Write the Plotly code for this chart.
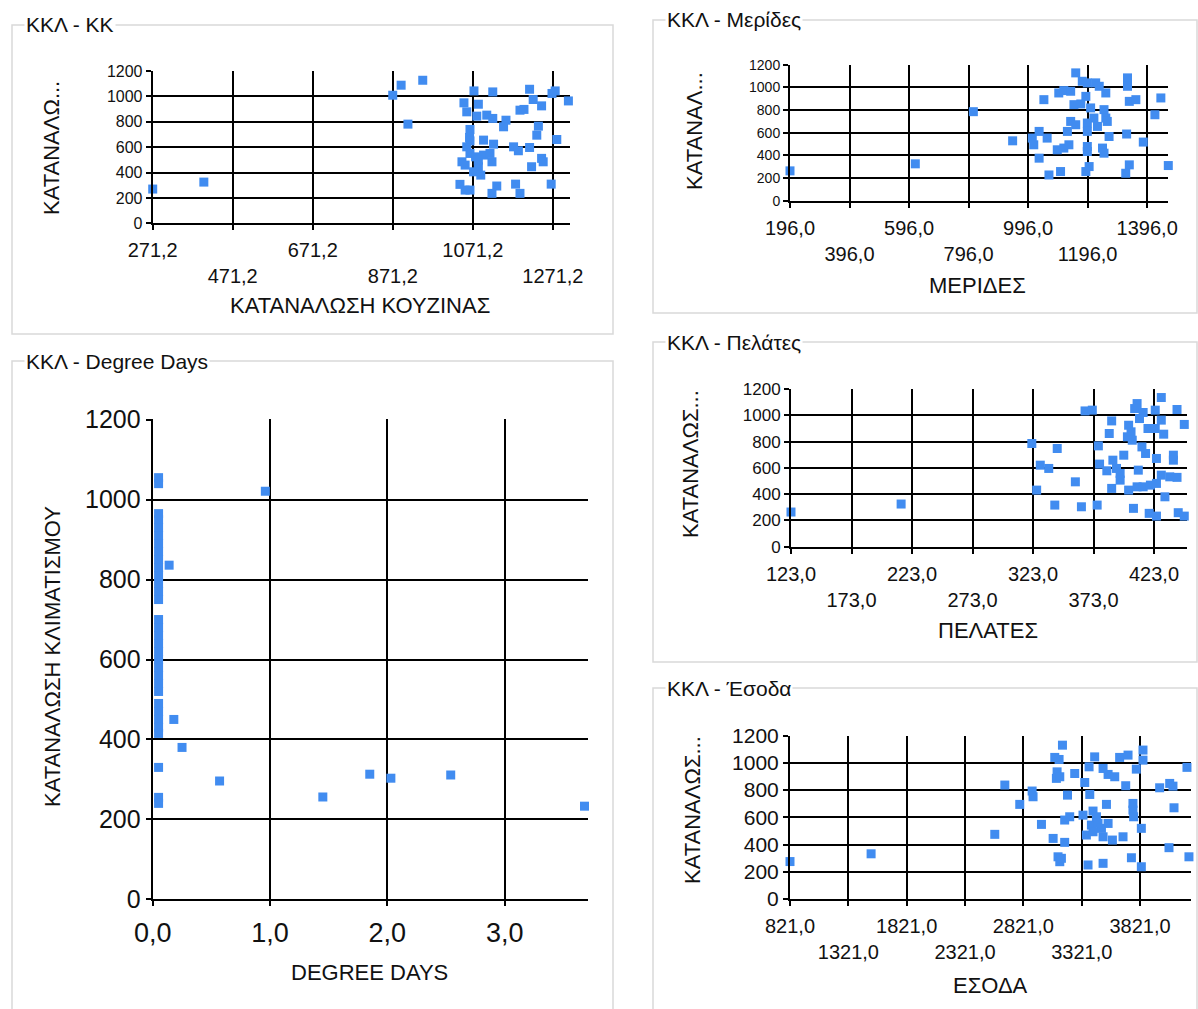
import plotly.graph_objects as go

# ---------------- data ----------------
# y values: air-conditioning consumption (ΚΚΛ); x values: the five drivers

kk_x = [271.2, 399, 871, 892, 946, 909, 1074, 1121, 1213, 1277, 1269, 1310, 1049, 1056, 1085, 1081,
        1106, 1121, 1189, 1199, 1222, 1243, 1154, 1148, 1235, 1231, 1064, 1063, 1281, 1098, 1123, 1056,
        1173, 1185, 1213, 1064, 1044, 1052, 1078, 1098, 1114, 1119, 1085, 1073, 1091, 1243, 1247, 1218,
        1039, 1052, 1064, 1131, 1119, 1178, 1189, 1267, 1064, 1085]
kk_y = [270, 325, 1010, 1089, 1128, 782, 1044, 1036, 1057, 1044, 1024, 965, 950, 879, 939, 845,
        853, 827, 892, 898, 976, 926, 813, 761, 766, 695, 740, 677, 661, 656, 624, 603,
        603, 572, 598, 551, 485, 459, 524, 538, 551, 485, 446, 406, 380, 512, 485, 446,
        307, 262, 262, 294, 236, 309, 236, 309, 650, 498]

mer_x = [196, 617, 812, 944, 1049, 1010, 1015, 1033, 1033, 1060, 1066, 1105, 1094, 1116, 1133, 1128,
         1139, 1156, 1099, 1116, 1139, 1156, 1150, 1173, 1178, 1195, 1223, 1235, 1257, 1190, 1206, 1217,
         1195, 1195, 1229, 1251, 1257, 1262, 1268, 1195, 1195, 1190, 1201, 1246, 1251, 1330, 1330, 1336,
         1358, 1442, 1422, 1327, 1383, 1336, 1324, 1467]
mer_y = [263, 325, 785, 528, 891, 552, 493, 611, 375, 552, 227, 257, 449, 464, 493, 611,
         699, 670, 950, 971, 965, 1127, 847, 853, 1053, 1039, 1039, 1009, 950, 920, 818, 729,
         685, 611, 655, 803, 729, 699, 566, 478, 434, 257, 301, 464, 419, 1083, 1009, 876,
         891, 906, 758, 588, 517, 316, 242, 310]

pel_x = [123, 214, 322, 343, 329, 336, 326, 341, 358, 363, 376, 366, 372, 377, 378, 384,
         388, 386, 389, 392, 395, 395, 388, 398, 402, 401, 404, 405, 402, 409, 407, 414,
         411, 410, 413, 416, 409, 414, 420, 418, 424, 424, 429, 429, 431, 425, 425, 429,
         432, 419, 425, 439, 439, 436, 442, 442, 448, 443, 448, 406]
pel_y = [264, 325, 786, 748, 621, 596, 431, 317, 494, 304, 317, 1034, 1040, 768, 629, 578,
         958, 862, 659, 596, 558, 507, 444, 697, 925, 837, 875, 811, 431, 1090, 1052, 1022,
         976, 583, 760, 710, 456, 456, 469, 900, 900, 1040, 1136, 964, 857, 672, 482, 545,
         380, 254, 233, 697, 659, 532, 528, 1045, 931, 259, 233, 292]

eso_x = [821, 1516, 2576, 2662, 2790, 2896, 2904, 2976, 3076, 3175, 3156, 3090, 3127, 3110, 3104, 3133,
         3261, 3199, 3175, 3218, 3118, 3133, 3147, 3332, 3347, 3384, 3432, 3390, 3375, 3361, 3404, 3418,
         3447, 3461, 3490, 3418, 3504, 3533, 3547, 3584, 3504, 3504, 3547, 3604, 3646, 3718, 3698, 3675,
         3747, 3760, 3760, 3766, 3789, 3846, 3846, 3832, 3832, 3989, 4075, 4103, 4112, 4069, 4223, 4240]
eso_y = [275, 332, 475, 837, 695, 793, 751, 548, 445, 416, 1130, 1040, 1025, 934, 886, 898,
         922, 763, 580, 604, 310, 274, 299, 616, 856, 971, 1044, 768, 250, 470, 543, 646,
         604, 555, 519, 494, 457, 695, 555, 433, 262, 959, 915, 898, 1040, 1057, 832, 457,
         303, 702, 653, 604, 954, 1094, 1020, 519, 237, 817, 849, 829, 670, 377, 967, 310]

dd_x = [0.05] * 32 + [0.14, 0.18, 0.25, 0.57, 0.96, 1.45, 1.85, 2.03, 2.54, 3.68]
dd_y = [1055, 1040, 965, 950, 930, 910, 890, 870, 850, 830, 810, 790, 770, 750,
        700, 680, 660, 640, 620, 600, 580, 560, 540, 520,
        490, 470, 450, 430, 415, 330, 255, 240,
        836, 450, 380, 296, 1021, 256, 313, 303, 311, 233]

# tick values
y_ticks = [0, 200, 400, 600, 800, 1000, 1200]
kk_ticks = [271.2, 471.2, 671.2, 871.2, 1071.2, 1271.2]
mer_ticks = [196.0, 396.0, 596.0, 796.0, 996.0, 1196.0, 1396.0]
pel_ticks = [123.0, 173.0, 223.0, 273.0, 323.0, 373.0, 423.0]
eso_ticks = [821.0, 1321.0, 1821.0, 2321.0, 2821.0, 3321.0, 3821.0]
dd_ticks = [0.0, 1.0, 2.0, 3.0]

# ---------------- layout helpers ----------------
W, H = 1198, 1009
FONT = "Liberation Sans, Arial, sans-serif"
BLUE = "rgb(65,140,240)"
TXT = "#111111"


def fx(p):
    return p / W


def fy(p):
    return 1 - p / H


def comma(v):
    return f"{v:.1f}".replace(".", ",")


def staggered(vals):
    # every second label drops to a second row
    return [comma(v) if i % 2 == 0 else "<br>" + comma(v) for i, v in enumerate(vals)]


panels = [
    dict(x=kk_x, y=kk_y, xt=kk_ticks, xtt=staggered(kk_ticks), xr=[271.2, 1314],
         box=(152.7, 570, 71, 223.3), yfs=16, xfs=20,
         xtitle="ΚΑΤΑΝΑΛΩΣΗ ΚΟΥΖΙΝΑΣ", xtpos=(360, 305),
         ytitle="ΚΑΤΑΝΑΛΩ...", ytpos=(52, 148)),
    dict(x=mer_x, y=mer_y, xt=mer_ticks, xtt=staggered(mer_ticks), xr=[196, 1467],
         box=(790, 1168.3, 64.5, 200.7), yfs=14, xfs=20,
         xtitle="ΜΕΡΙΔΕΣ", xtpos=(977, 285),
         ytitle="ΚΑΤΑΝΑΛ...", ytpos=(695, 131)),
    dict(x=pel_x, y=pel_y, xt=pel_ticks, xtt=staggered(pel_ticks), xr=[123, 450],
         box=(791, 1186.7, 389, 546.7), yfs=17, xfs=20,
         xtitle="ΠΕΛΑΤΕΣ", xtpos=(988, 630),
         ytitle="ΚΑΤΑΝΑΛΩΣ...", ytpos=(690, 464)),
    dict(x=eso_x, y=eso_y, xt=eso_ticks, xtt=staggered(eso_ticks), xr=[821, 4255],
         box=(790, 1190.7, 735.5, 899), yfs=21, xfs=20,
         xtitle="ΕΣΟΔΑ", xtpos=(990, 985),
         ytitle="ΚΑΤΑΝΑΛΩΣ...", ytpos=(692, 810)),
    dict(x=dd_x, y=dd_y, xt=dd_ticks, xtt=[comma(v) for v in dd_ticks], xr=[0, 3.71],
         box=(152.7, 588, 419.3, 899.3), yfs=25, xfs=27,
         xtitle="DEGREE DAYS", xtpos=(369, 972),
         ytitle="ΚΑΤΑΝΑΛΩΣΗ ΚΛΙΜΑΤΙΣΜΟΥ", ytpos=(52, 657)),
]

fig = go.Figure()
annotations = []
layout = {}

for i, p in enumerate(panels, start=1):
    xa = "x" if i == 1 else f"x{i}"
    ya = "y" if i == 1 else f"y{i}"
    fig.add_trace(go.Scatter(
        x=p["x"], y=p["y"], xaxis=xa, yaxis=ya, mode="markers",
        marker=dict(symbol="square", size=9, color=BLUE, line=dict(width=0)),
        cliponaxis=False, showlegend=False, hoverinfo="x+y"))
    x0, x1, y0, y1 = p["box"]
    axis_common = dict(
        showline=True, linecolor="black", linewidth=2,
        showgrid=True, gridcolor="black", gridwidth=2,
        zeroline=False, ticks="outside", ticklen=5, tickwidth=2, tickcolor="black",
        fixedrange=True, automargin=False, tickangle=0,
    )
    layout["xaxis" if i == 1 else f"xaxis{i}"] = dict(
        axis_common, domain=[fx(x0), fx(x1)], anchor=ya, range=p["xr"],
        tickmode="array", tickvals=p["xt"], ticktext=p["xtt"],
        tickfont=dict(family=FONT, size=p["xfs"], color=TXT), ticklabelstandoff=3,
    )
    layout["yaxis" if i == 1 else f"yaxis{i}"] = dict(
        axis_common, domain=[fy(y1), fy(y0)], anchor=xa, range=[0, 1201],
        tickmode="array", tickvals=y_ticks, ticktext=[str(v) for v in y_ticks],
        tickfont=dict(family=FONT, size=p["yfs"], color=TXT),
    )
    annotations.append(dict(
        xref="paper", yref="paper", x=fx(p["xtpos"][0]), y=fy(p["xtpos"][1]),
        text=p["xtitle"], showarrow=False, xanchor="center", yanchor="middle",
        font=dict(family=FONT, size=22, color=TXT)))
    annotations.append(dict(
        xref="paper", yref="paper", x=fx(p["ytpos"][0]), y=fy(p["ytpos"][1]),
        text=p["ytitle"], showarrow=False, xanchor="center", yanchor="middle",
        textangle=-90, font=dict(family=FONT, size=22, color=TXT)))

# group boxes around each chart, with captions set into the top border
groups = [
    ("ΚΚΛ - ΚΚ", 12, 613, 25, 334),
    ("ΚΚΛ - Degree Days", 12, 613, 361, 1030),
    ("ΚΚΛ - Μερίδες", 653, 1197, 20, 313),
    ("ΚΚΛ - Πελάτες", 653, 1197, 342, 662),
    ("ΚΚΛ - Έσοδα", 653, 1197, 688, 1030),
]
shapes = []
for title, gx0, gx1, gy0, gy1 in groups:
    shapes.append(dict(type="rect", xref="paper", yref="paper",
                       x0=fx(gx0), x1=fx(gx1), y0=fy(gy1), y1=fy(gy0),
                       line=dict(color="#d9d9d9", width=1.5), fillcolor="rgba(0,0,0,0)", layer="below"))
    annotations.append(dict(
        xref="paper", yref="paper", x=fx(gx0 + 12), y=fy(gy0), text=title, showarrow=False,
        xanchor="left", yanchor="middle", bgcolor="white", borderpad=1,
        font=dict(family=FONT, size=21, color=TXT)))

fig.update_layout(
    width=W, height=H, margin=dict(l=0, r=0, t=0, b=0, autoexpand=False),
    paper_bgcolor="white", plot_bgcolor="white",
    annotations=annotations, shapes=shapes, **layout)

fig.write_html("out.html", config={"displayModeBar": False})
